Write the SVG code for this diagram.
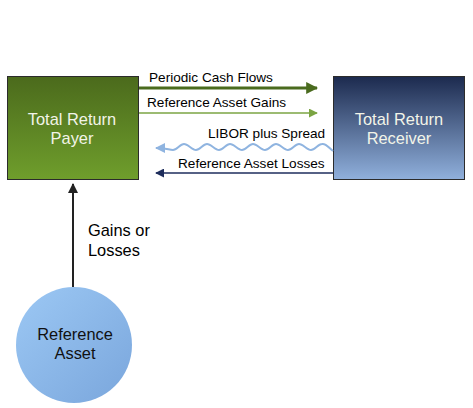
<svg xmlns="http://www.w3.org/2000/svg" width="473" height="408" viewBox="0 0 473 408">
<defs>
<linearGradient id="gPay" x1="0" y1="0" x2="0" y2="1">
<stop offset="0" stop-color="#4b6a1c"/>
<stop offset="1" stop-color="#6f9e2c"/>
</linearGradient>
<linearGradient id="gRec" x1="0" y1="0" x2="0" y2="1">
<stop offset="0" stop-color="#1c2a4e"/>
<stop offset="1" stop-color="#90b0dc"/>
</linearGradient>
<linearGradient id="gAsset" x1="0" y1="0" x2="1" y2="1">
<stop offset="0" stop-color="#9cc8f4"/>
<stop offset="1" stop-color="#7aa6dc"/>
</linearGradient>
<marker id="mDark" viewBox="0 0 10 10" refX="9" refY="5" markerWidth="4" markerHeight="4" orient="auto"><path d="M0,0 L10,5 L0,10 z" fill="#4a6b1e"/></marker>
<marker id="mLight" viewBox="0 0 10 10" refX="9" refY="5" markerWidth="6" markerHeight="6" orient="auto"><path d="M0,0 L10,5 L0,10 z" fill="#7ba443"/></marker>
<marker id="mBlue" viewBox="0 0 10 10" refX="9" refY="5" markerWidth="5" markerHeight="5" orient="auto"><path d="M0,0 L10,5 L0,10 z" fill="#8fb4e0"/></marker>
<marker id="mNavy" viewBox="0 0 10 10" refX="9" refY="5" markerWidth="6" markerHeight="6" orient="auto"><path d="M0,0 L10,5 L0,10 z" fill="#1e2d5c"/></marker>
<marker id="mBlack" viewBox="0 0 10 10" refX="9" refY="5" markerWidth="5" markerHeight="5" orient="auto"><path d="M0,0 L10,5 L0,10 z" fill="#222"/></marker>
</defs>
<style>
text{font-family:"Liberation Sans",Arial,sans-serif}
.lbl{font-size:13.6px;fill:#000}
.big{font-size:16.4px;fill:#000}
.node{font-size:16.4px;fill:#f2f4e8;text-anchor:middle}
.asset{font-size:16.4px;fill:#111;text-anchor:middle}
.box{stroke:#2b2b2b;stroke-width:1}
</style>
<g id="payer">
<rect class="box" x="7.5" y="76.5" width="131" height="103" fill="url(#gPay)"/>
<text class="node" x="72" y="125">Total Return</text>
<text class="node" x="72" y="144">Payer</text>
</g>
<g id="receiver">
<rect class="box" x="333.5" y="76.5" width="131" height="103" fill="url(#gRec)"/>
<text class="node" x="399" y="125">Total Return</text>
<text class="node" x="399" y="144">Receiver</text>
</g>
<g id="asset">
<circle cx="74" cy="345" r="58" fill="url(#gAsset)"/>
<text class="asset" x="75" y="340">Reference</text>
<text class="asset" x="75" y="359">Asset</text>
</g>
<g id="connectors">
<line x1="139" y1="88" x2="317" y2="88" stroke="#4a6b1e" stroke-width="3" marker-end="url(#mDark)"/>
<text class="lbl" x="149" y="82">Periodic Cash Flows</text>
<line x1="139" y1="113" x2="317" y2="113" stroke="#7ba443" stroke-width="1.5" marker-end="url(#mLight)"/>
<text class="lbl" x="147" y="107">Reference Asset Gains</text>
<path d="M333,151 C329,148 326,143 322,144 C318,144 315,150 311,150 C307,150 303,144 299,144 C295,144 292,150 288,150 C284,150 280,144 276,144 C272,144 269,150 265,150 C261,150 257,144 253,144 C249,144 246,150 242,150 C238,150 234,144 230,144 C226,144 223,150 219,150 C215,150 211,144 207,144 C203,144 200,150 196,150 C192,150 188,144 184,144 C180,144 177,150 173,150 C169,150 166,148 156,148" fill="none" stroke="#8fb4e0" stroke-width="2" marker-end="url(#mBlue)"/>
<text class="lbl" x="208" y="138">LIBOR plus  Spread</text>
<line x1="333" y1="173" x2="156" y2="173" stroke="#1e2d5c" stroke-width="1.5" marker-end="url(#mNavy)"/>
<text class="lbl" x="178" y="168">Reference Asset Losses</text>
<line x1="73" y1="287" x2="73" y2="184" stroke="#222" stroke-width="2" marker-end="url(#mBlack)"/>
<text class="big" x="88" y="236">Gains or</text>
<text class="big" x="88" y="256">Losses</text>
</g>
</svg>
